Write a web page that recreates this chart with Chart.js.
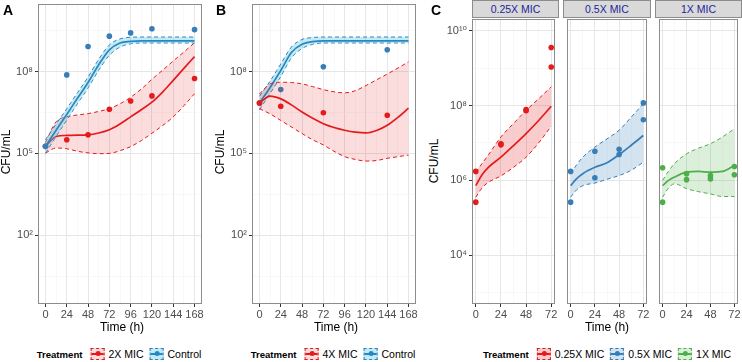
<!DOCTYPE html>
<html>
<head>
<meta charset="utf-8">
<script src="https://cdn.jsdelivr.net/npm/chart.js@4.4.1/dist/chart.umd.min.js"></script>
<style>
body { margin: 0; width: 742px; height: 362px; background: #fff; position: relative; overflow: hidden; font-family: "Liberation Sans", Arial, sans-serif; }
canvas { position: absolute; }
.txt { position: absolute; white-space: nowrap; }
.tag { font-weight: bold; font-size: 14px; line-height: 14px; }
.ytitle { font-size: 12px; transform: translate(-50%, -50%) rotate(-90deg); }
.xtitle { font-size: 12px; transform: translate(-50%, -50%); }
.strip { position: absolute; box-sizing: border-box; height: 18px; top: 0; background: #d9d9d9; border: 1px solid #8c8c8c; color: #1f1f9c; font-size: 10.5px; line-height: 16px; text-align: center; }
.legend { position: absolute; top: 348px; display: flex; align-items: center; transform: translateX(-50%); font-size: 10.5px; white-space: nowrap; }
.legend b { font-size: 9.6px; margin-right: 8px; }
.key { position: relative; display: inline-block; width: 14px; height: 12px; box-sizing: border-box; border: 1px dashed var(--c); background: var(--f); margin-right: 4px; }
.key::before { content: ''; position: absolute; left: 0; right: 0; top: 4px; height: 1.6px; background: var(--c); }
.key::after { content: ''; position: absolute; left: 4px; top: 2.3px; width: 5px; height: 5px; border-radius: 50%; background: var(--c); }
.legend span.lab { margin-right: 6px; }
</style>
</head>
<body>
<script>
// ---- data (log10 CFU/mL) ----
const timesAB = [0, 12, 24, 36, 48, 60, 72, 84, 96, 108, 120, 132, 144, 156, 168];

// Panel A
const obsTimesA = [0, 24, 48, 72, 96, 120, 168];
const a2xObs = [5.26, 5.50, 5.68, 6.62, 6.92, 7.11, 7.75];
const aCtrlObs = [5.26, 7.88, 8.92, 9.30, 9.42, 9.57, 9.54];
const a2xFit = [5.26, 5.62, 5.66, 5.67, 5.68, 5.75, 5.87, 6.08, 6.34, 6.60, 6.88, 7.25, 7.68, 8.12, 8.55];
const a2xHi = [5.40, 6.16, 6.34, 6.41, 6.46, 6.54, 6.64, 6.82, 7.06, 7.36, 7.72, 8.05, 8.39, 8.72, 9.06];
const a2xLo = [5.01, 5.20, 5.17, 5.08, 5.02, 4.99, 5.00, 5.10, 5.25, 5.47, 5.74, 6.02, 6.34, 6.75, 7.19];
const aCtrlFit = [5.26, 5.85, 6.43, 7.02, 7.60, 8.25, 8.80, 9.05, 9.11, 9.13, 9.13, 9.13, 9.13, 9.13, 9.13];
const aCtrlHi = [5.50, 6.08, 6.64, 7.22, 7.80, 8.45, 8.98, 9.20, 9.26, 9.27, 9.27, 9.27, 9.27, 9.27, 9.27];
const aCtrlLo = [5.00, 5.62, 6.22, 6.82, 7.40, 8.05, 8.60, 8.90, 9.02, 9.05, 9.05, 9.05, 9.05, 9.05, 9.05];

// Panel B
const obsTimesB = [0, 24, 72, 144];
const b4xObs = [6.85, 6.73, 6.49, 6.40];
const bCtrlObs = [6.85, 7.34, 8.18, 8.80];
const b4xFit = [6.85, 7.10, 7.00, 6.78, 6.52, 6.29, 6.09, 5.95, 5.85, 5.78, 5.75, 5.84, 6.03, 6.32, 6.66];
const b4xHi = [7.18, 7.55, 7.61, 7.60, 7.55, 7.45, 7.34, 7.26, 7.22, 7.30, 7.49, 7.70, 7.91, 8.13, 8.36];
const b4xLo = [6.64, 6.45, 6.21, 5.97, 5.73, 5.50, 5.31, 5.08, 4.88, 4.78, 4.72, 4.74, 4.82, 4.88, 4.94];
const bCtrlFit = [6.85, 7.42, 8.04, 8.70, 9.00, 9.10, 9.13, 9.13, 9.13, 9.13, 9.13, 9.13, 9.13, 9.13, 9.13];
const bCtrlHi = [7.10, 7.65, 8.28, 8.90, 9.18, 9.25, 9.27, 9.27, 9.27, 9.27, 9.27, 9.27, 9.27, 9.27, 9.27];
const bCtrlLo = [6.60, 7.20, 7.82, 8.50, 8.85, 9.00, 9.05, 9.05, 9.05, 9.05, 9.05, 9.05, 9.05, 9.05, 9.05];

// Panel C
const timesC = [0, 6, 12, 24, 36, 48, 60, 72];
const obsTimesC = [0, 0, 24, 24, 48, 48, 72, 72];
const c025Obs = [6.24, 5.42, 6.98, 6.95, 7.86, 7.89, 9.55, 9.03];
const c025Fit = [5.86, 6.15, 6.35, 6.62, 6.93, 7.25, 7.60, 7.98];
const c025Hi = [6.22, 6.45, 6.68, 7.16, 7.52, 7.87, 8.18, 8.50];
const c025Lo = [5.55, 5.80, 5.95, 6.12, 6.35, 6.62, 7.00, 7.45];
const c05Obs = [6.24, 5.42, 6.78, 6.07, 6.83, 6.69, 8.07, 7.62];
const c05Fit = [5.86, 6.05, 6.18, 6.35, 6.47, 6.69, 6.94, 7.20];
const c05Hi = [6.18, 6.42, 6.62, 6.89, 7.11, 7.34, 7.69, 8.05];
const c05Lo = [5.55, 5.75, 5.86, 5.93, 6.03, 6.13, 6.27, 6.49];
const c1xObs = [6.34, 5.42, 6.18, 6.02, 6.13, 6.04, 6.37, 6.15];
const c1xFit = [5.86, 6.00, 6.09, 6.22, 6.24, 6.22, 6.24, 6.40];
const c1xHi = [6.00, 6.25, 6.45, 6.71, 6.86, 6.98, 7.16, 7.38];
const c1xLo = [5.55, 5.80, 5.91, 5.78, 5.70, 5.64, 5.57, 5.57];

// labels and ticks
const legendA = ['2X MIC', 'Control'];
const legendB = ['4X MIC', 'Control'];
const facetsC = ['0.25X MIC', '0.5X MIC', '1X MIC'];
const xTicksAB = [0, 12, 24, 36, 48, 60, 72, 84, 96, 108, 120, 132, 144, 156, 168];
const xTicksC = [0, 12, 24, 36, 48, 60, 72];
const yExpAB = [0.5, 2, 3.5, 5, 6.5, 8, 9.5];
const yMajorAB = [2, 5, 8];
const yExpC = [3, 4, 5, 6, 7, 8, 9, 10];
const yMajorC = [4, 6, 8, 10];

// ---- colours ----
const RED = '#e41a1c', BLUE = '#377eb8', GREEN = '#4daf4a';
const CYAN_LINE = '#2a86c1';
const GRID_MAJOR = '#e6e6e6', GRID_MINOR = '#f3f3f3', BORDER = '#8c8c8c';
const FONT = '"Liberation Sans", "DejaVu Sans", Arial, sans-serif';
const XH = 20;

const SUP = { '0': '⁰', '1': '¹', '2': '²', '3': '³', '4': '⁴', '5': '⁵', '6': '⁶', '7': '⁷', '8': '⁸', '9': '⁹' };
const pow10 = e => '10' + String(e).split('').map(c => SUP[c]).join('');

const pts = (t, v) => t.map((x, i) => ({ x, y: 10 ** v[i] }));

function series(s, base) {
  return [
    { data: pts(s.t, s.hi), borderColor: s.edge, borderWidth: 1, borderDash: [4, 3], backgroundColor: s.fill,
      fill: '+1', pointRadius: 0, cubicInterpolationMode: 'monotone', order: base + 2 },
    { data: pts(s.t, s.lo), borderColor: s.edge, borderWidth: 1, borderDash: [4, 3],
      fill: false, pointRadius: 0, cubicInterpolationMode: 'monotone', order: base + 2 },
    { data: pts(s.t, s.fit), borderColor: s.line, borderWidth: 1.7, fill: false, pointRadius: 0,
      cubicInterpolationMode: 'monotone', order: base + 1 },
    { data: pts(s.obsT, s.obs), showLine: false, pointRadius: 2.8, pointBorderWidth: 0,
      pointBackgroundColor: s.point, order: base }
  ];
}

// draws the panel border on top of the data, like ggplot
const frame = {
  id: 'frame',
  afterDatasetsDraw(chart) {
    const a = chart.chartArea, c = chart.ctx;
    c.save();
    c.strokeStyle = BORDER;
    c.lineWidth = 1;
    c.strokeRect(a.left + 0.5, a.top + 0.5, a.right - a.left - 1, a.bottom - a.top - 1);
    c.restore();
  }
};

function addPanel(p) {
  const cv = document.createElement('canvas');
  cv.width = p.yw + (p.R - p.L);
  cv.height = p.B + XH;
  cv.style.left = (p.L - p.yw) + 'px';
  cv.style.top = '0px';
  document.body.appendChild(cv);

  const xMajor = p.xTicks.map(v => v % 24 === 0);
  const yMajor = p.yExp.map(e => p.yMajors.includes(e));

  new Chart(cv.getContext('2d'), {
    type: 'line',
    data: { datasets: p.datasets },
    options: {
      responsive: false,
      animation: false,
      layout: { padding: { top: p.T, left: 0, right: 0, bottom: 0 } },
      plugins: { legend: { display: false }, tooltip: { enabled: false } },
      scales: {
        x: {
          type: 'linear', min: p.xMin, max: p.xMax,
          afterBuildTicks: s => { s.ticks = p.xTicks.map(v => ({ value: v })); },
          afterFit: s => { s.height = XH; s.paddingLeft = 0; s.paddingRight = 0; },
          ticks: { autoSkip: false, maxRotation: 0, minRotation: 0, padding: 1, color: '#4d4d4d',
            font: { family: FONT, size: 11 }, callback: (v, i) => xMajor[i] ? String(p.xTicks[i]) : '' },
          grid: { color: c => xMajor[c.index] ? GRID_MAJOR : GRID_MINOR, lineWidth: c => xMajor[c.index] ? 1 : 0.6,
            tickLength: 3, tickColor: c => xMajor[c.index] ? '#333' : 'rgba(0,0,0,0)' },
          border: { display: false }
        },
        y: {
          type: 'logarithmic', min: 10 ** p.yMin, max: 10 ** p.yMax,
          afterBuildTicks: s => { s.ticks = p.yExp.map(e => ({ value: 10 ** e })); },
          afterFit: s => { s.width = p.yw; s.paddingTop = 0; s.paddingBottom = 0; },
          ticks: { display: p.showY, autoSkip: false, padding: 2, color: '#4d4d4d',
            font: { family: FONT, size: 11 }, callback: (v, i) => yMajor[i] ? pow10(p.yExp[i]) : '' },
          grid: { color: c => yMajor[c.index] ? GRID_MAJOR : GRID_MINOR, lineWidth: c => yMajor[c.index] ? 1 : 0.6,
            drawTicks: p.showY, tickLength: 3, tickColor: c => yMajor[c.index] ? '#333' : 'rgba(0,0,0,0)' },
          border: { display: false }
        }
      }
    },
    plugins: [frame]
  });
}

function text(cls, str, x, y) {
  const d = document.createElement('div');
  d.className = 'txt ' + cls;
  d.textContent = str;
  d.style.left = x + 'px';
  d.style.top = y + 'px';
  document.body.appendChild(d);
  return d;
}

function legend(cx, items) {
  const d = document.createElement('div');
  d.className = 'legend';
  d.style.left = cx + 'px';
  const b = document.createElement('b');
  b.textContent = 'Treatment';
  d.appendChild(b);
  items.forEach(it => {
    const k = document.createElement('span');
    k.className = 'key';
    k.style.setProperty('--c', it.c);
    k.style.setProperty('--f', it.f);
    d.appendChild(k);
    const l = document.createElement('span');
    l.className = 'lab';
    l.textContent = it.name;
    d.appendChild(l);
  });
  document.body.appendChild(d);
}

const redFill = 'rgba(228,26,28,0.15)';
const cyanFill = 'rgba(100,200,225,0.38)';
const abCommon = { T: 1, B: 304, xMin: -8.4, xMax: 176.4, xTicks: xTicksAB, yMin: -0.48, yMax: 10.48,
  yExp: yExpAB, yMajors: yMajorAB, showY: true };

// Panel A
addPanel(Object.assign({}, abCommon, {
  L: 38, R: 206, yw: 38,
  datasets: [
    ...series({ t: timesAB, fit: a2xFit, hi: a2xHi, lo: a2xLo, obsT: obsTimesA, obs: a2xObs,
      edge: RED, line: RED, point: RED, fill: redFill }, 10),
    ...series({ t: timesAB, fit: aCtrlFit, hi: aCtrlHi, lo: aCtrlLo, obsT: obsTimesA, obs: aCtrlObs,
      edge: CYAN_LINE, line: CYAN_LINE, point: BLUE, fill: cyanFill }, 0)
  ]
}));

// Panel B
addPanel(Object.assign({}, abCommon, {
  L: 252, R: 420, yw: 30,
  datasets: [
    ...series({ t: timesAB, fit: b4xFit, hi: b4xHi, lo: b4xLo, obsT: obsTimesB, obs: b4xObs,
      edge: RED, line: RED, point: RED, fill: redFill }, 0),
    ...series({ t: timesAB, fit: bCtrlFit, hi: bCtrlHi, lo: bCtrlLo, obsT: obsTimesB, obs: bCtrlObs,
      edge: CYAN_LINE, line: CYAN_LINE, point: BLUE, fill: cyanFill }, 10)
  ]
}));

// Panel C facets
const cCommon = { T: 19, B: 304, xMin: -3.6, xMax: 75.6, xTicks: xTicksC, yMin: 2.70, yMax: 10.31,
  yExp: yExpC, yMajors: yMajorC };
const cFacets = [
  { L: 472, R: 559, yw: 30, showY: true, col: RED, fill: 'rgba(228,26,28,0.22)', fit: c025Fit, hi: c025Hi, lo: c025Lo, obs: c025Obs },
  { L: 563, R: 651, yw: 0, showY: false, col: BLUE, fill: 'rgba(55,126,184,0.22)', fit: c05Fit, hi: c05Hi, lo: c05Lo, obs: c05Obs },
  { L: 655, R: 742, yw: 0, showY: false, col: GREEN, fill: 'rgba(77,175,74,0.2)', fit: c1xFit, hi: c1xHi, lo: c1xLo, obs: c1xObs }
];
cFacets.forEach((f, i) => {
  addPanel(Object.assign({}, cCommon, {
    L: f.L, R: f.R, yw: f.yw, showY: f.showY,
    datasets: series({ t: timesC, fit: f.fit, hi: f.hi, lo: f.lo, obsT: obsTimesC, obs: f.obs,
      edge: f.col, line: f.col, point: f.col, fill: f.fill }, 0)
  }));
  const s = document.createElement('div');
  s.className = 'strip';
  s.style.left = f.L + 'px';
  s.style.width = (f.R - f.L) + 'px';
  s.textContent = facetsC[i];
  document.body.appendChild(s);
});

// ---- text ----
text('tag', 'A', 3, 3);
text('tag', 'B', 216, 3);
text('tag', 'C', 431, 3);
text('ytitle', 'CFU/mL', 6, 152);
text('ytitle', 'CFU/mL', 220, 152);
text('ytitle', 'CFU/mL', 434, 161);
text('xtitle', 'Time (h)', 122, 327);
text('xtitle', 'Time (h)', 336, 327);
text('xtitle', 'Time (h)', 607, 327);

legend(122, [{ name: legendA[0], c: RED, f: redFill }, { name: legendA[1], c: CYAN_LINE, f: cyanFill }]);
legend(336, [{ name: legendB[0], c: RED, f: redFill }, { name: legendB[1], c: CYAN_LINE, f: cyanFill }]);
legend(610, cFacets.map((f, i) => ({ name: facetsC[i], c: f.col, f: f.fill })));
</script>
</body>
</html>
